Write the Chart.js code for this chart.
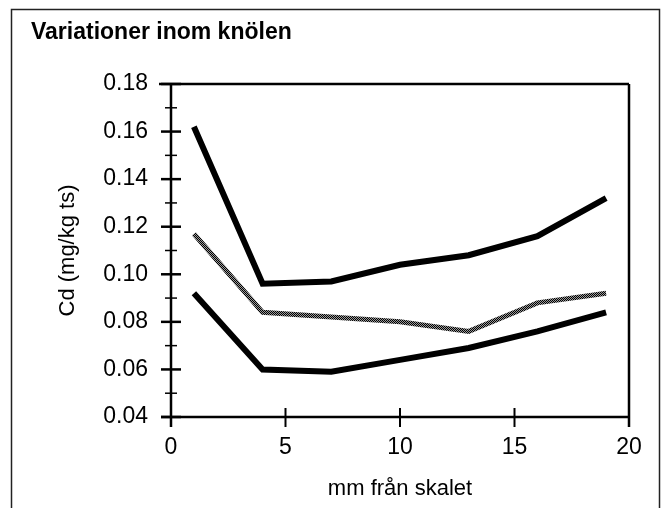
<!DOCTYPE html>
<html>
<head>
<meta charset="utf-8">
<script src="https://cdn.jsdelivr.net/npm/chart.js@4/dist/chart.umd.min.js"></script>
<style>
  html, body { margin: 0; padding: 0; background: #fff; }
  #wrap { width: 664px; height: 508px; }
</style>
</head>
<body>
<div id="wrap"><canvas id="chart" width="664" height="508"></canvas></div>
<script>
// values
const depths = [1, 4, 7, 10, 13, 16, 19];            // mm från skalet
const cdHigh = [0.162, 0.096, 0.097, 0.104, 0.108, 0.116, 0.132];
const cdMid  = [0.117, 0.084, 0.082, 0.080, 0.076, 0.088, 0.092];
const cdLow  = [0.092, 0.060, 0.059, 0.064, 0.069, 0.076, 0.084];
const xTicks = [0, 5, 10, 15, 20];
const yTicks = [0.04, 0.06, 0.08, 0.10, 0.12, 0.14, 0.16, 0.18];

const titleText = 'Variationer inom knölen';
const xTitle = 'mm från skalet';
const yTitle = 'Cd (mg/kg ts)';

const FONT = '"Liberation Sans", Arial, sans-serif';

// dithered grey like the scanned middle curve
function ditherPattern() {
    const c = document.createElement('canvas');
    c.width = 2; c.height = 2;
    const g = c.getContext('2d');
    g.fillStyle = '#9a9a9a';
    g.fillRect(0, 0, 2, 2);
    g.fillStyle = '#000';
    g.fillRect(0, 0, 1, 1);
    g.fillRect(1, 1, 1, 1);
    return g.createPattern(c, 'repeat');
}

const toPoints = (ys) => depths.map((x, i) => ({x: x, y: ys[i]}));

// axes drawn as in the original: box on top/right, ticks crossing the axis
const axisFrame = {
    id: 'axisFrame',
    beforeDatasetsDraw(chart) {
        const ctx = chart.ctx;
        const {left, right, top, bottom} = chart.chartArea;
        const xs = chart.scales.x, ys = chart.scales.y;
        ctx.save();
        ctx.strokeStyle = '#000';
        ctx.lineCap = 'butt';

        ctx.lineWidth = 2.5;
        ctx.beginPath();
        ctx.moveTo(left - 12, top); ctx.lineTo(right, top);        // top line
        ctx.moveTo(right, top); ctx.lineTo(right, bottom + 10);   // right line
        ctx.moveTo(left, top); ctx.lineTo(left, bottom + 10);     // y axis
        ctx.moveTo(left - 10, bottom); ctx.lineTo(right, bottom); // x axis
        ctx.stroke();

        // y major + minor ticks
        ctx.lineWidth = 2.5;
        ys.ticks.forEach((t) => {
            const y = ys.getPixelForValue(t.value);
            ctx.beginPath();
            ctx.moveTo(left - 10, y); ctx.lineTo(left + 10, y);
            ctx.stroke();
        });
        ctx.lineWidth = 1.5;
        for (let i = 0; i < ys.ticks.length - 1; i++) {
            const v = (ys.ticks[i].value + ys.ticks[i + 1].value) / 2;
            const y = ys.getPixelForValue(v);
            ctx.beginPath();
            ctx.moveTo(left - 6, y); ctx.lineTo(left + 6, y);
            ctx.stroke();
        }
        // x ticks
        ctx.lineWidth = 2;
        xs.ticks.forEach((t) => {
            const x = xs.getPixelForValue(t.value);
            ctx.beginPath();
            ctx.moveTo(x, bottom - 9); ctx.lineTo(x, bottom + 10);
            ctx.stroke();
        });
        ctx.restore();
    },
    afterDraw(chart) {
        const ctx = chart.ctx;
        ctx.save();
        // outer frame of the figure
        ctx.strokeStyle = '#222';
        ctx.lineWidth = 1.5;
        ctx.strokeRect(11.5, 9.5, 648, 530);
        // heading
        ctx.fillStyle = '#000';
        ctx.font = 'bold 23px ' + FONT;
        ctx.textBaseline = 'middle';
        ctx.textAlign = 'left';
        ctx.fillText(titleText, 31, 33);
        ctx.restore();
    }
};

new Chart(document.getElementById('chart'), {
    type: 'line',
    data: {
        datasets: [
            {label: 'max', data: toPoints(cdHigh), borderColor: '#000', borderWidth: 6},
            {label: 'medel', data: toPoints(cdMid), borderColor: ditherPattern(), borderWidth: 5},
            {label: 'min', data: toPoints(cdLow), borderColor: '#000', borderWidth: 6}
        ]
    },
    options: {
        responsive: false,
        animation: false,
        layout: {padding: {top: 84, right: 35, left: 0, bottom: 0}},
        elements: {
            point: {radius: 0},
            line: {tension: 0, borderCapStyle: 'butt', borderJoinStyle: 'miter', fill: false}
        },
        plugins: {
            legend: {display: false},
            tooltip: {enabled: false}
        },
        scales: {
            x: {
                type: 'linear',
                min: 0, max: 20,
                afterBuildTicks: (s) => { s.ticks = xTicks.map((v) => ({value: v})); },
                afterFit: (s) => { s.height = 91; },
                grid: {display: false, drawTicks: false},
                border: {display: false},
                ticks: {color: '#000', padding: 17, maxRotation: 0, font: {family: FONT, size: 23}},
                title: {display: true, text: xTitle, color: '#000', padding: {top: 0, bottom: 6},
                        font: {family: FONT, size: 22}}
            },
            y: {
                type: 'linear',
                min: 0.04, max: 0.18,
                afterBuildTicks: (s) => { s.ticks = yTicks.map((v) => ({value: v})); },
                afterFit: (s) => { s.width = 171; },
                grid: {display: false, drawTicks: false},
                border: {display: false},
                ticks: {color: '#000', padding: 23, font: {family: FONT, size: 23},
                        callback: (v) => Number(v).toFixed(2)},
                title: {display: true, text: yTitle, color: '#000', padding: {top: 55, bottom: 0},
                        font: {family: FONT, size: 22}}
            }
        }
    },
    plugins: [axisFrame]
});
</script>
</body>
</html>
